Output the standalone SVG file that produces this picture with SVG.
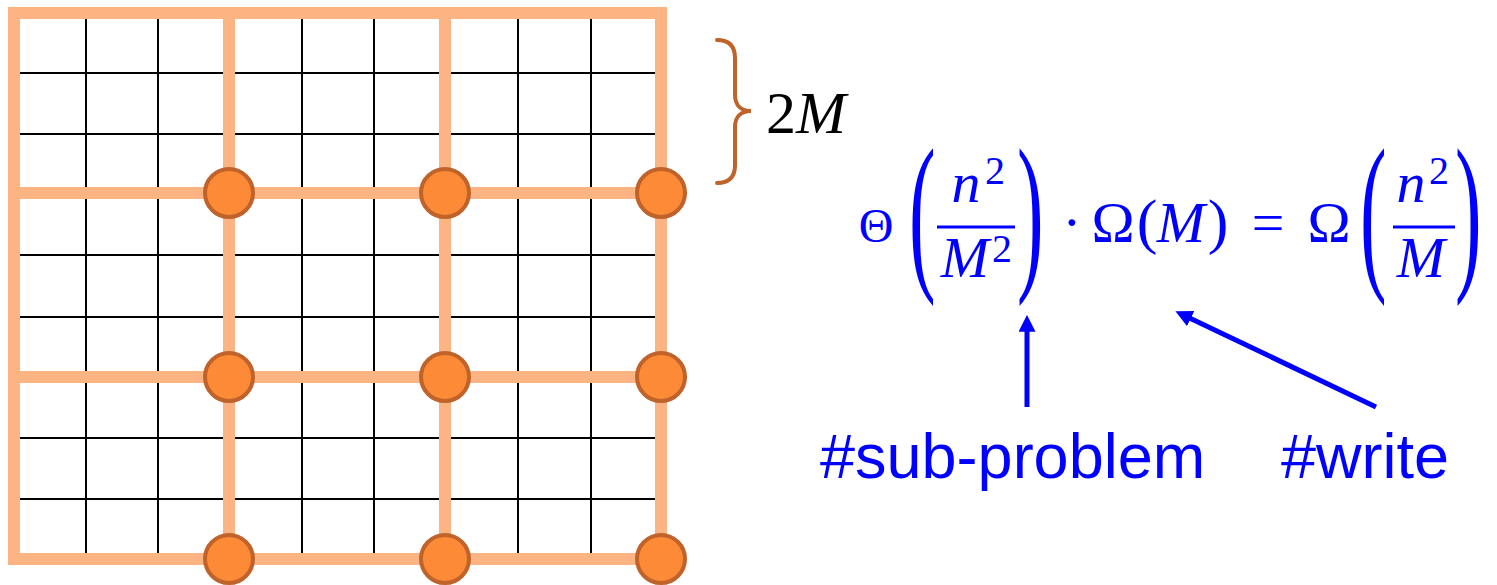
<svg xmlns="http://www.w3.org/2000/svg" width="1497" height="585" viewBox="0 0 1497 585">
<style>
.grid{stroke:#000;stroke-width:2;fill:none}
.orange{stroke:#FDB483;stroke-width:12;fill:none;stroke-linecap:square}
.node{fill:#FD8A36;stroke:#C0632A;stroke-width:4}
.brace{stroke:#C0632A;stroke-width:4;fill:none;stroke-linecap:round}
.m{font-family:"Liberation Serif","Times New Roman",serif;fill:#0000FF}
.mi{font-family:"Liberation Serif","Times New Roman",serif;font-style:italic;fill:#0000FF}
.lbl{font-family:"Liberation Sans",Arial,sans-serif;font-size:63px;fill:#0000FF}
.bar{stroke:#0000FF;stroke-width:3}
.arrow{stroke:#0000FF;stroke-width:5;fill:none}
</style>
<defs>
<marker id="ah" viewBox="0 0 4 4" refX="0.2" refY="2" markerWidth="3.4" markerHeight="3.4" orient="auto" markerUnits="strokeWidth">
<path d="M0,0 L4,2 L0,4 z" fill="#0000FF"/>
</marker>
</defs>
<g id="grid">
<path class="grid" d="M86,13V559M158,13V559M302,13V559M374,13V559M518,13V559M591,13V559M14,73H661M14,134H661M14,255H661M14,317H661M14,438H661M14,499H661"/>
<rect class="orange" x="14" y="13" width="647" height="546"/>
<path class="orange" d="M229,13V559M445,13V559M14,193H661M14,377H661"/>
</g>
<g id="node-r1c1"><circle class="node" cx="229" cy="193" r="24"/></g>
<g id="node-r1c2"><circle class="node" cx="445" cy="193" r="24"/></g>
<g id="node-r1c3"><circle class="node" cx="661" cy="193" r="24"/></g>
<g id="node-r2c1"><circle class="node" cx="229" cy="377" r="24"/></g>
<g id="node-r2c2"><circle class="node" cx="445" cy="377" r="24"/></g>
<g id="node-r2c3"><circle class="node" cx="661" cy="377" r="24"/></g>
<g id="node-r3c1"><circle class="node" cx="229" cy="559" r="24"/></g>
<g id="node-r3c2"><circle class="node" cx="445" cy="559" r="24"/></g>
<g id="node-r3c3"><circle class="node" cx="661" cy="559" r="24"/></g>
<g id="brace-2M">
<path class="brace" d="M717,40 C729,40 735,46 735,58 L735,95 C735,105 741,111 751,111 C741,111 735,117 735,127 L735,165 C735,177 729,183 717,183"/>
<text x="766" y="133" font-family="'Liberation Serif','Times New Roman',serif" font-size="60" fill="#000">2<tspan font-style="italic">M</tspan></text>
</g>
<g id="formula">
<text class="m" x="876" y="242" font-size="48" text-anchor="middle">Θ</text>
<text class="m" transform="translate(909,269.3) scale(1.05,2.283)" font-size="76">(</text>
<text class="mi" x="966" y="202" font-size="58" text-anchor="middle">n</text>
<text class="m" x="995" y="184" font-size="40" text-anchor="middle">2</text>
<line class="bar" x1="937" y1="227" x2="1015" y2="227"/>
<text class="mi" x="965" y="277" font-size="58" text-anchor="middle">M</text>
<text class="m" x="1002" y="262" font-size="40" text-anchor="middle">2</text>
<text class="m" transform="translate(1017,269.3) scale(1.05,2.283)" font-size="76">)</text>
<text class="m" x="1072" y="242" font-size="58" text-anchor="middle">·</text>
<text class="m" x="1113" y="242" font-size="58" text-anchor="middle">Ω</text>
<text class="m" x="1147" y="242" font-size="62" text-anchor="middle">(</text>
<text class="mi" x="1181" y="242" font-size="58" text-anchor="middle">M</text>
<text class="m" x="1218" y="242" font-size="62" text-anchor="middle">)</text>
<text class="m" x="1268" y="242" font-size="58" text-anchor="middle">=</text>
<text class="m" x="1329" y="242" font-size="58" text-anchor="middle">Ω</text>
<text class="m" transform="translate(1360,269.3) scale(1.05,2.283)" font-size="76">(</text>
<text class="mi" x="1411" y="202" font-size="58" text-anchor="middle">n</text>
<text class="m" x="1439" y="184" font-size="40" text-anchor="middle">2</text>
<line class="bar" x1="1393" y1="227" x2="1455" y2="227"/>
<text class="mi" x="1421" y="277" font-size="58" text-anchor="middle">M</text>
<text class="m" transform="translate(1455,269.3) scale(1.05,2.283)" font-size="76">)</text>
</g>
<g id="label-subproblem"><text class="lbl" x="820" y="478">#sub-problem</text></g>
<g id="label-write"><text class="lbl" x="1281" y="478">#write</text></g>
<g id="connectors">
<line class="arrow" x1="1027" y1="407" x2="1027" y2="331" marker-end="url(#ah)"/>
<line class="arrow" x1="1376" y1="407" x2="1190" y2="318.2" marker-end="url(#ah)"/>
</g>
</svg>
